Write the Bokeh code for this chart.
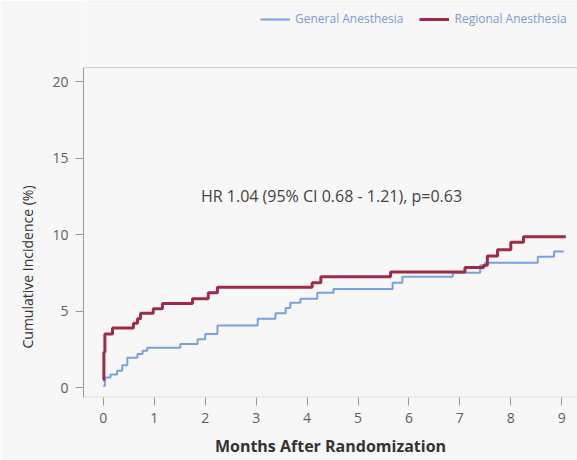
from bokeh.plotting import figure
from bokeh.models import Range1d, FixedTicker, Legend, LegendItem, Label, Span, Title
from bokeh.embed import file_html
from bokeh.resources import INLINE

# --- data ---
red_t = [0.0, 0.01, 0.03, 0.18, 0.59, 0.67, 0.73, 0.98, 1.16, 1.75, 2.06, 2.24,
         4.10, 4.27, 5.64, 7.10, 7.47, 7.54, 7.74, 8.00, 8.25, 9.08]
red_v = [0.5, 2.3, 3.5, 3.9, 4.2, 4.5, 4.85, 5.15, 5.5, 5.8, 6.2, 6.55,
         6.85, 7.25, 7.55, 7.85, 8.0, 8.6, 9.0, 9.5, 9.85, 9.85]

blue_t = [0.0, 0.03, 0.14, 0.27, 0.37, 0.47, 0.67, 0.77, 0.86, 1.51, 1.85, 2.00,
          2.24, 3.03, 3.38, 3.58, 3.67, 3.87, 4.20, 4.52, 5.68, 5.87, 6.86, 7.40,
          7.50, 8.53, 8.85, 9.04]
blue_v = [0.1, 0.65, 0.85, 1.1, 1.45, 1.95, 2.2, 2.4, 2.6, 2.85, 3.15, 3.5,
          4.05, 4.5, 4.85, 5.2, 5.55, 5.8, 6.2, 6.45, 6.85, 7.25, 7.5, 8.0,
          8.15, 8.55, 8.9, 8.9]

x_ticks = [0, 1, 2, 3, 4, 5, 6, 7, 8, 9]
y_ticks = [0, 5, 10, 15, 20]
series_names = ["General Anesthesia", "Regional Anesthesia"]
x_title = "Months After Randomization"
y_title = "Cumulative Incidence (%)"
annotation = "HR 1.04 (95% CI 0.68 - 1.21), p=0.63"

BG = "#f7f7f7"
FONT = "Open Sans"
Y_LO, Y_BOX_TOP, Y_HI = -0.65, 20.92, 25.30

p = figure(width=577, height=460, output_backend="svg", toolbar_location=None,
           x_range=Range1d(-0.39, 9.31), y_range=Range1d(Y_LO, Y_HI),
           min_border_left=83, min_border_right=0, min_border_top=0,
           min_border_bottom=63)
p.background_fill_color = BG
p.border_fill_color = BG
p.outline_line_color = None
p.grid.visible = False

# visible plot box (top and bottom edges)
p.add_layout(Span(location=Y_BOX_TOP, dimension="width", line_color="#cfcfcf", line_width=1))
p.add_layout(Span(location=Y_LO + 0.03, dimension="width", line_color="#d6d6d6", line_width=1))

rb = p.step(blue_t, blue_v, mode="after", line_color="#7aa0e0", line_width=2)
rr = p.step(red_t, red_v, mode="after", line_color="#9e2b47", line_width=3)

for ax in (p.xaxis[0], p.yaxis[0]):
    ax.axis_line_color = "#9a9a9a"
    ax.major_tick_line_color = "#9a9a9a"
    ax.major_tick_in = 0
    ax.major_tick_out = 8
    ax.minor_tick_line_color = None
    ax.major_label_text_font = FONT
    ax.major_label_text_font_size = "14px"
    ax.major_label_text_color = "#5e5e5e"
    ax.axis_label_text_font = FONT
    ax.axis_label_text_color = "#333333"

p.xaxis.ticker = FixedTicker(ticks=x_ticks)
p.yaxis.ticker = FixedTicker(ticks=y_ticks)
p.yaxis.bounds = (Y_LO, Y_BOX_TOP)
p.xaxis.axis_line_color = None
p.xaxis.major_label_standoff = 7
p.yaxis.major_label_standoff = 7
p.xaxis.axis_label = x_title
p.xaxis.axis_label_text_font_style = "bold"
p.xaxis.axis_label_text_font_size = "16px"
p.xaxis.axis_label_standoff = 9

# y-axis title as a side title so it can sit lower, like the reference
p.add_layout(Title(text=y_title, align="left", offset=49, standoff=22,
                   vertical_align="top",
                   text_font=FONT, text_font_size="14px", text_font_style="normal",
                   text_color="#333333"), "left")

p.add_layout(Label(x=4.48, y=12.55, text=annotation, text_align="center",
                   text_baseline="middle", text_font=FONT, text_font_size="16px",
                   text_color="#444444"))

legend = Legend(items=[LegendItem(label=series_names[0], renderers=[rb]),
                       LegendItem(label=series_names[1], renderers=[rr])],
                orientation="horizontal", location=(177, 370),
                background_fill_alpha=0, border_line_color=None,
                padding=0, margin=0, glyph_width=30, glyph_height=12,
                label_text_font=FONT, label_text_font_size="12px",
                label_text_color="#7f9bd2", spacing=16)
p.add_layout(legend, "center")

open("out.html", "w").write(file_html(p, INLINE))
